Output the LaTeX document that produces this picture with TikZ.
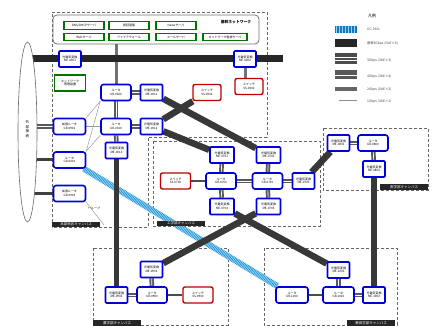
\documentclass[tikz,border=0pt]{standalone}
\usepackage{fontspec}
\setmainfont{Noto Sans CJK JP}
\usetikzlibrary{shapes.geometric,backgrounds}
\tikzset{
 lbl/.style={font=\fontsize{3}{3.5}\selectfont, align=center, inner sep=0pt},
 mebox/.style={lbl, draw=blue!85!black, line width=1.6pt, fill=white, rounded corners=1pt, minimum width=22pt, minimum height=16pt},
 rtbox/.style={mebox, rounded corners=2.5pt, minimum width=30pt},
 swbox/.style={lbl, draw=red!75!black, line width=1.4pt, fill=white, rounded corners=2pt, minimum width=28pt, minimum height=16pt},
 gbox/.style={lbl, draw=green!45!black, line width=1.3pt, fill=white, minimum width=40pt, minimum height=7.5pt},
 trunk/.style={draw=black!78, line width=6.5pt},
 bbone/.style={draw=black!85, line width=7pt},
 stripe/.style={draw=black!65, line width=4.5pt, postaction={draw=white, line width=0.6pt}},
 thinl/.style={draw=black!40, line width=0.5pt},
 linkl/.style={draw=black!70, line width=1.5pt},
 grayl/.style={draw=black!55, line width=3pt},
 ocl/.style={draw=cyan!45, line width=6pt, postaction={draw=cyan!55!blue, line width=6pt, dash pattern=on 0.4pt off 1.1pt}},
 campus/.style={draw=black!60, densely dashed, line width=0.8pt},
 clabel/.style={fill=black!85, text=white, font=\fontsize{3.5}{4}\selectfont, inner sep=1pt, anchor=north west, minimum height=5.5pt, minimum width=48pt},
 legt/.style={font=\fontsize{3.3}{4}\selectfont, anchor=west, inner sep=0pt, text=black!75},
}
\begin{document}
\begin{tikzpicture}[x=1pt,y=-1pt]
\useasboundingbox (0,0) rectangle (432,326);
% network box
\node[draw=black!55, line width=0.8pt, rounded corners=4pt, fill=white, minimum width=206pt, minimum height=29pt, inner sep=0pt] (net) at (156,29.5) {};
\node[font=\fontsize{3.8}{4}\selectfont\bfseries, inner sep=0pt] (nettitle) at (236,22.5) {基幹ネットワーク};
\node[gbox] (g1) at (84,25.5) {DNS/DHCPサーバ};
\node[gbox] (g2) at (129,25.5) {認証基盤};
\node[gbox] (g3) at (176,25.5) {Newsサーバ};
\node[gbox] (g4) at (84,37) {Webサーバ};
\node[gbox] (g5) at (129,37) {ファイアウォール};
\node[gbox] (g6) at (176,37) {メールサーバ};
\node[gbox, minimum width=44pt] (g7) at (225,37) {ネットワーク監視サーバ};
% external
\node[ellipse, draw=black!60, line width=0.6pt, fill=white, minimum width=19pt, minimum height=180pt, inner sep=0pt] (ext) at (27.5,132) {};
\node[font=\fontsize{3.5}{4.5}\selectfont, align=center, inner sep=0pt] (extt) at (27.5,129) {外\\部\\接\\続};
% upper campus nodes
\node[mebox] (me1) at (70,59) {光電気変換\\ME-0001};
\node[mebox] (me2) at (245,59) {光電気変換\\ME-0002};
\node[swbox] (ss2) at (249,86.5) {スイッチ\\SS-0002};
\node[gbox, minimum width=31pt, minimum height=16pt] (mon) at (70,83) {ネットワーク\\管理装置};
\node[rtbox] (gr20) at (116,92.5) {ルータ\\GR-0020};
\node[mebox] (me11) at (151.5,92.5) {光電気変換\\ME-0011};
\node[swbox] (ss1) at (207,92.5) {スイッチ\\SS-0001};
\node[rtbox, minimum width=32pt] (gr901) at (69.5,126.5) {拡張ルータ\\GR-0901};
\node[rtbox] (gr10) at (116,126.5) {ルータ\\GR-0010};
\node[mebox] (me12) at (151.5,126.5) {光電気変換\\ME-0012};
\node[mebox] (me13) at (116.5,150.5) {光電気変換\\ME-0013};
\node[rtbox, minimum width=32pt] (gr1) at (69.5,160) {ルータ\\GR-0001};
\node[rtbox, minimum width=32pt] (gr902) at (69.5,193.5) {拡張ルータ\\GR-0902};
\node[font=\fontsize{3}{3.5}\selectfont, inner sep=0pt, anchor=west] (arrt) at (88,208) {←ループ};
\coordinate (lpend) at (104,225);
% center campus
\node[mebox, minimum width=24pt] (me701) at (222,155) {光電気変換\\ME-0701};
\node[mebox, minimum width=24pt] (me702) at (268.5,155) {光電気変換\\ME-0702};
\node[swbox, minimum width=30pt] (ss700) at (175.5,181) {スイッチ\\SS-0700};
\node[rtbox] (gr700) at (221,181) {ルータ\\GR-0700};
\node[rtbox] (gr710) at (267.5,181) {ルータ\\GR-0710};
\node[mebox] (me703) at (303.5,181) {光電気変換\\ME-0703};
\node[mebox, minimum width=24pt] (me704) at (222,206.5) {光電気変換\\ME-0704};
\node[mebox, minimum width=24pt] (me705) at (268.5,206.5) {光電気変換\\ME-0705};
% right campus
\node[mebox] (me801) at (338.5,143) {光電気変換\\ME-0801};
\node[rtbox] (gr800) at (373,143) {ルータ\\GR-0800};
\node[mebox] (me802) at (374,169) {光電気変換\\ME-0802};
% bottom-left campus
\node[mebox] (me901) at (151.5,269.5) {光電気変換\\ME-0901};
\node[mebox] (me902) at (116.5,295) {光電気変換\\ME-0902};
\node[rtbox] (gr900) at (152,295) {ルータ\\GR-0900};
\node[swbox, minimum width=30pt] (ss900) at (198,295) {スイッチ\\SS-0900};
% bottom-right campus
\node[mebox] (me1001) at (338.5,270) {光電気変換\\ME-1001};
\node[rtbox, minimum width=32pt] (gr1000) at (292,295) {ルータ\\GR-1000};
\node[rtbox, minimum width=31pt] (gr1010) at (338.5,295) {ルータ\\GR-1010};
\node[mebox] (me1002) at (374,295) {光電気変換\\ME-1002};
\coordinate (bbend) at (283,59);
% campus labels
\node[clabel] (cl1) at (52,221.5) {本部地区キャンパス};
\node[clabel] (cl2) at (157,220.5) {工学部キャンパス};
\node[clabel] (cl3) at (380,184) {医学部キャンパス};
\node[clabel] (cl4) at (93,320) {農学部キャンパス};
\node[clabel] (cl5) at (347,320) {教育学部キャンパス};
% legend
\node[font=\fontsize{4}{4.5}\selectfont, inner sep=0pt] (legtitle) at (372,16) {凡例};
\coordinate (l1a) at (335,29.5); \coordinate (l1b) at (357,29.5);
\coordinate (l2a) at (335,43); \coordinate (l2b) at (357,43);
\coordinate (l3a) at (335,59); \coordinate (l3b) at (357,59);
\coordinate (l4a) at (335,75); \coordinate (l4b) at (357,75);
\coordinate (l5a) at (335,89.5); \coordinate (l5b) at (357,89.5);
\coordinate (l6a) at (339,100); \coordinate (l6b) at (357,100);
\node[legt] (lt1) at (367,29.5) {OC-192c};
\node[legt] (lt2) at (367,43) {基幹8Gbps (GbE×8)};
\node[legt] (lt3) at (367,61) {3Gbps (GbE×3)};
\node[legt] (lt4) at (367,77) {4Gbps (GbE×4)};
\node[legt] (lt5) at (367,89.5) {2Gbps (GbE×2)};
\node[legt] (lt6) at (367,101.5) {1Gbps (GbE×1)};

\begin{pgfonlayer}{background}
% campus outlines
\draw[campus] (52,12) -- (267,12) -- (267,137) -- (148,137) -- (148,227) -- (52,227) -- cycle;
\draw[campus] (153,141) rectangle (320,226);
\draw[campus] (323,128) rectangle (428,190);
\draw[campus] (93,248) rectangle (228,325);
\draw[campus] (264,248) rectangle (397,325);
% legend swatches
\draw[draw=cyan!45, line width=7pt, postaction={draw=cyan!55!blue, line width=7pt, dash pattern=on 0.4pt off 1.1pt}] (l1a) -- (l1b);
\draw[draw=black!85, line width=8pt] (l2a) -- (l2b);
\draw[draw=black!70, line width=11pt] (l3a) -- (l3b);
\draw[draw=white, line width=0.7pt] ([yshift=-1.8pt]l3a) -- ([yshift=-1.8pt]l3b);
\draw[draw=white, line width=0.7pt] ([yshift=1.8pt]l3a) -- ([yshift=1.8pt]l3b);
\draw[draw=black!65, line width=9pt, postaction={draw=white, line width=0.7pt}] (l4a) -- (l4b);
\draw[draw=black!60, line width=4pt] (l5a) -- (l5b);
\draw[draw=black!45, line width=0.8pt] (l6a) -- (l6b);
% network to router
\draw[grayl] (gr20.north) -- (gr20.north |- net.south);
% backbone
\draw[bbone] (ext.center |- me1.west) -- (me1.west);
\draw[bbone] (me1) -- (me2);
\draw[bbone] (me2) -- (bbend);
\draw[grayl] (me2.south) -- (me2.south |- ss2.north);
% external links
\draw[stripe] (ext.center |- gr901.west) -- (gr901.west);
\draw[draw=black!75, line width=3pt] (ext.center |- gr1.west) -- (gr1.west);
\draw[draw=black!75, line width=3pt] (ext.center |- gr902.west) -- (gr902.west);
% thin management links
\draw[thinl] (gr20.south west) -- (gr901.north east);
\draw[thinl] (gr20.south west) -- (gr1.north east);
\draw[thinl] (gr10) -- (gr901);
\draw[thinl] (gr10.south west) -- (gr1.north east);
\draw[thinl] (gr902.south east) -- (lpend);
% OC-192c
\draw[ocl] (gr1) -- (gr1000);
% trunks
\draw[trunk] (me11) -- (me702);
\draw[trunk] (ss1) -- (me12);
\draw[trunk] (me12) -- (me701);
\draw[trunk] (me704) -- (me1001);
\draw[trunk] (me705) -- (me901);
\draw[trunk] (me703) -- (me801);
\draw[trunk] (me802) -- (me1002);
\draw[draw=black!78, line width=5pt] (me13) -- (me902);
% striped short links
\draw[stripe] (gr20) -- (gr10);
\draw[stripe] (gr10) -- (me13);
\draw[stripe] (gr20) -- (me11);
\draw[stripe] (gr10) -- (me12);
\draw[stripe] (gr700) -- (gr710);
\draw[stripe] (gr710) -- (me703);
\draw[stripe] (me701) -- (gr700);
\draw[stripe] (gr700) -- (me704);
\draw[stripe] (me702) -- (gr710);
\draw[stripe] (gr710) -- (me705);
\draw[stripe] (me801) -- (gr800);
\draw[stripe] (gr800) -- (me802);
\draw[stripe] (me902) -- (gr900);
\draw[stripe] (me901) -- (gr900);
\draw[stripe] (gr1010) -- (me1001);
\draw[stripe] (gr1010) -- (me1002);
% switch links
\draw[linkl] (ss700) -- (gr700);
\draw[linkl] (gr900) -- (ss900);
\draw[linkl] (gr1000) -- (gr1010);
\end{pgfonlayer}
\end{tikzpicture}
\end{document}
